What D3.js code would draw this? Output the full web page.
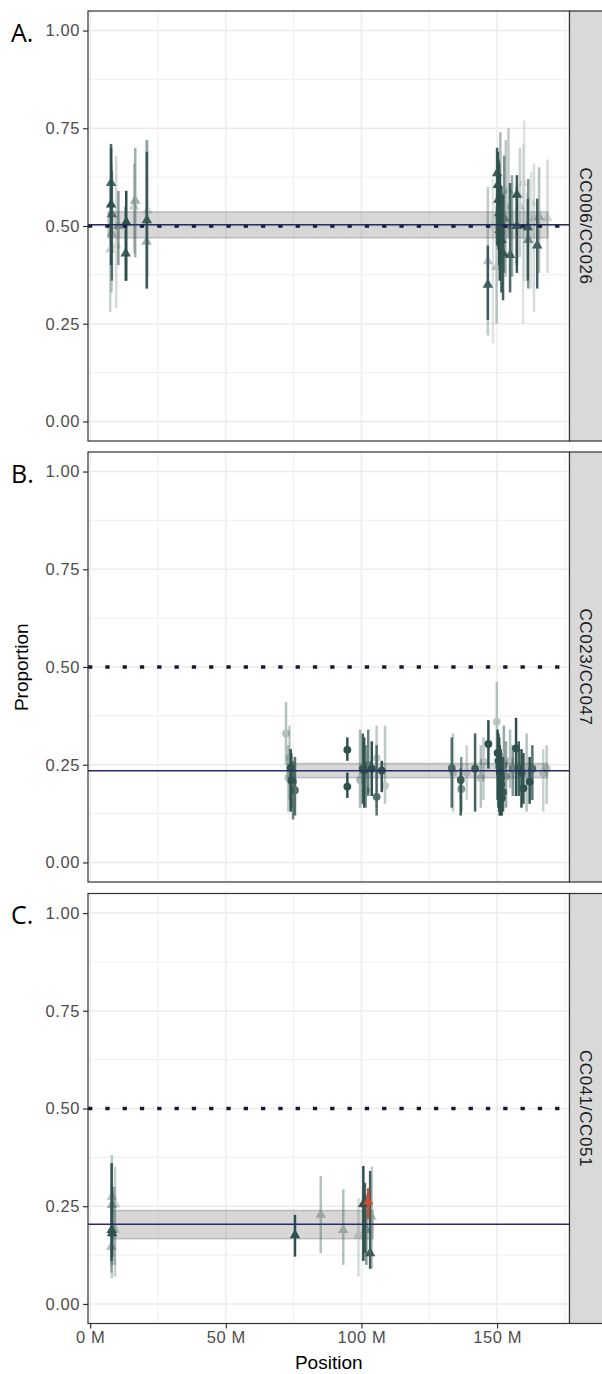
<!DOCTYPE html>
<html><head><meta charset="utf-8">
<script src="https://cdn.jsdelivr.net/npm/d3@7"></script>
<style>body{margin:0;background:#fff}</style>
</head><body>
<svg id="c" width="602" height="1374" xmlns="http://www.w3.org/2000/svg"></svg>
<script>
// ---------- data ----------
const panelLabels = ["A.", "B.", "C."];
const stripLabels = ["CC006/CC026", "CC023/CC047", "CC041/CC051"];
const panelShapes = ["triangle", "circle", "triangle"];
const xTicks = [0, 50, 100, 150];
const xMinor = [25, 75, 125, 175];
const yTicks = [0, 0.25, 0.5, 0.75, 1];
const yMinor = [0.125, 0.375, 0.625, 0.875];
const xDomain = [-0.8, 176.7];
const yDomain = [-0.05, 1.05];
const nullValue = 0.5;
const estimates = [0.503, 0.2345, 0.204];
const ciLow = [0.470, 0.217, 0.167];
const ciHigh = [0.536, 0.253, 0.239];
const bandStart = [6.6, 72.5, 8.0];
const bandEnd = [168.7, 168.6, 104.3];

// [position (Mb), proportion, lower, upper, opacity, highlighted]
const pointsA = [
  [7.7,0.61,0.45,0.71,0.85,0],[7.7,0.555,0.40,0.70,1,0],[8.0,0.53,0.36,0.64,0.75,0],
  [7.9,0.48,0.33,0.66,0.3,0],[7.4,0.44,0.28,0.60,0.25,0],[9.6,0.45,0.29,0.68,0.2,0],
  [10.4,0.50,0.40,0.59,0.55,0],[13.3,0.51,0.36,0.59,1,0],[13.1,0.43,0.36,0.55,0.9,0],
  [16.6,0.565,0.42,0.70,0.45,0],[16.2,0.55,0.43,0.66,0.25,0],[20.9,0.515,0.34,0.69,0.9,0],
  [20.8,0.46,0.34,0.72,0.45,0],[21.2,0.54,0.37,0.72,0.2,0],
  [146.6,0.35,0.26,0.45,0.9,0],[146.6,0.41,0.22,0.60,0.3,0],[148.5,0.50,0.20,0.62,0.15,0],
  [150.0,0.635,0.45,0.70,0.9,0],[150.3,0.605,0.47,0.69,1,0],[150.5,0.567,0.44,0.67,1,0],
  [150.8,0.533,0.40,0.66,1,0],[151.0,0.49,0.36,0.63,1,0],[151.6,0.464,0.33,0.60,0.9,0],
  [152.2,0.43,0.31,0.58,0.9,0],[149.8,0.395,0.25,0.55,0.3,0],[151.2,0.58,0.40,0.74,0.4,0],
  [152.6,0.52,0.38,0.68,0.6,0],[153.2,0.55,0.37,0.72,0.3,0],[154.8,0.426,0.33,0.61,0.85,0],
  [154.2,0.59,0.47,0.75,0.3,0],[155.5,0.50,0.37,0.63,0.5,0],[157.3,0.58,0.38,0.63,0.95,0],
  [157.3,0.50,0.40,0.60,0.9,0],[158.4,0.55,0.42,0.70,0.25,0],[159.6,0.61,0.25,0.71,0.15,0],
  [161.3,0.497,0.36,0.57,0.9,0],[161.5,0.464,0.34,0.62,0.6,0],[163.6,0.52,0.28,0.66,0.2,0],
  [164.8,0.45,0.34,0.57,0.9,0],[165.5,0.523,0.38,0.65,0.35,0],[168.6,0.52,0.38,0.67,0.2,0],
  [160.0,0.58,0.36,0.77,0.15,0],[162.5,0.56,0.34,0.64,0.15,0]
];
const pointsB = [
  [72.2,0.33,0.25,0.41,0.35,0],[73.9,0.242,0.13,0.29,1,0],[74.1,0.21,0.14,0.28,0.9,0],
  [75.5,0.185,0.12,0.27,0.8,0],[73.5,0.267,0.16,0.35,0.3,0],[73.0,0.216,0.13,0.30,0.3,0],
  [74.8,0.207,0.11,0.26,0.7,0],
  [94.8,0.288,0.26,0.32,1,0],[94.8,0.194,0.165,0.23,1,0],[99.5,0.211,0.14,0.34,0.4,0],
  [100.5,0.24,0.15,0.33,0.9,0],[101.0,0.235,0.14,0.32,1,0],[101.6,0.185,0.14,0.30,0.6,0],
  [102.5,0.25,0.17,0.34,0.7,0],[103.8,0.24,0.17,0.31,1,0],[105.6,0.267,0.14,0.35,0.3,0],
  [105.6,0.168,0.12,0.30,0.8,0],[107.5,0.235,0.18,0.26,1,0],[108.7,0.196,0.15,0.35,0.3,0],
  [133.3,0.241,0.14,0.32,0.8,0],[133.8,0.23,0.13,0.33,0.3,0],[136.6,0.211,0.12,0.24,0.9,0],
  [136.8,0.188,0.13,0.27,0.6,0],[138.8,0.23,0.16,0.30,0.25,0],[141.9,0.24,0.13,0.33,0.9,0],
  [144.0,0.216,0.14,0.30,0.35,0],[145.0,0.258,0.16,0.32,0.3,0],[146.8,0.303,0.24,0.364,1,0],
  [149.9,0.36,0.29,0.462,0.3,0],[150.2,0.28,0.16,0.34,1,0],[150.5,0.26,0.14,0.33,1,0],
  [150.8,0.245,0.13,0.32,1,0],[151.0,0.23,0.12,0.30,1,0],[151.3,0.215,0.12,0.29,1,0],
  [151.5,0.20,0.13,0.28,1,0],[151.7,0.164,0.12,0.25,1,0],[152.2,0.18,0.13,0.27,0.9,0],
  [152.5,0.25,0.16,0.35,0.5,0],[153.3,0.22,0.14,0.31,0.5,0],[154.8,0.26,0.19,0.34,0.35,0],
  [155.8,0.24,0.17,0.30,0.6,0],[157.0,0.292,0.17,0.37,1,0],[158.0,0.24,0.17,0.31,0.9,0],
  [159.0,0.23,0.14,0.29,1,0],[159.7,0.19,0.15,0.28,1,0],[160.9,0.23,0.13,0.33,0.35,0],
  [162.0,0.207,0.15,0.27,1,0],[163.0,0.24,0.16,0.30,0.8,0],[167.0,0.229,0.13,0.29,0.25,0],
  [168.3,0.24,0.15,0.30,0.3,0]
];
const pointsC = [
  [8.0,0.274,0.066,0.381,0.3,0],[8.0,0.253,0.10,0.36,0.4,0],[7.9,0.189,0.11,0.36,0.9,0],
  [8.1,0.181,0.12,0.30,1,0],[7.8,0.146,0.08,0.25,0.35,0],[9.2,0.255,0.07,0.351,0.25,0],
  [9.0,0.19,0.10,0.30,0.3,0],[75.5,0.176,0.121,0.228,1,0],[85.0,0.228,0.13,0.327,0.35,0],
  [93.3,0.189,0.10,0.293,0.35,0],[98.9,0.176,0.07,0.271,0.2,0],[100.7,0.256,0.11,0.353,1,0],
  [101.3,0.255,0.13,0.31,0.9,0],[101.8,0.19,0.10,0.28,0.6,0],[103.2,0.13,0.09,0.34,0.9,0],
  [103.8,0.223,0.09,0.351,0.3,0],[102.5,0.262,0.219,0.296,1,1]
];
const panelPoints = [pointsA, pointsB, pointsC];

// ---------- layout ----------
const svg = d3.select("#c");
const L = 88, R = 569.5, PH = 430;
const tops = [11, 452, 893.5];
const stripW = 34;
const pointColor = "#2f514d", hiColor = "#cc4d33";
const font = "'Liberation Sans', Arial, sans-serif";

const x = d3.scaleLinear().domain(xDomain).range([L, R]);

panelPoints.forEach((pts, i) => {
  const T = tops[i];
  const y = d3.scaleLinear().domain(yDomain).range([T + PH, T]);
  const g = svg.append("g");
  g.append("rect").attr("x", L).attr("y", T).attr("width", R - L).attr("height", PH).attr("fill", "#fff");
  g.selectAll(null).data(yMinor).join("line")
    .attr("x1", L).attr("x2", R).attr("y1", d => y(d)).attr("y2", d => y(d))
    .attr("stroke", "#ebebeb").attr("stroke-width", 0.8);
  g.selectAll(null).data(xMinor).join("line")
    .attr("y1", T).attr("y2", T + PH).attr("x1", d => x(d)).attr("x2", d => x(d))
    .attr("stroke", "#ebebeb").attr("stroke-width", 0.8);
  g.selectAll(null).data(yTicks).join("line")
    .attr("x1", L).attr("x2", R).attr("y1", d => y(d)).attr("y2", d => y(d))
    .attr("stroke", "#ebebeb").attr("stroke-width", 1.5);
  g.selectAll(null).data(xTicks).join("line")
    .attr("y1", T).attr("y2", T + PH).attr("x1", d => x(d)).attr("x2", d => x(d))
    .attr("stroke", "#ebebeb").attr("stroke-width", 1.5);

  g.append("rect")
    .attr("x", x(bandStart[i])).attr("width", x(bandEnd[i]) - x(bandStart[i]))
    .attr("y", y(ciHigh[i])).attr("height", y(ciLow[i]) - y(ciHigh[i]))
    .attr("fill", "#9a9a9a").attr("fill-opacity", 0.4)
    .attr("stroke", "#a8a8a8").attr("stroke-width", 1.5).attr("stroke-opacity", 0.7);

  const sorted = pts.slice().sort((a, b) => a[4] - b[4] || a[5] - b[5]);
  const pg = g.append("g");
  sorted.forEach(d => {
    const col = d[5] ? hiColor : pointColor;
    const pgi = pg.append("g").attr("opacity", d[4]);
    pgi.append("line").attr("x1", x(d[0])).attr("x2", x(d[0]))
      .attr("y1", y(d[2])).attr("y2", y(d[3]))
      .attr("stroke", col).attr("stroke-width", 2.5);
    if (panelShapes[i] === "circle") {
      pgi.append("circle").attr("cx", x(d[0])).attr("cy", y(d[1])).attr("r", 3.9).attr("fill", col);
    } else {
      pgi.append("path").attr("d", d3.symbol(d3.symbolTriangle, 48)())
        .attr("transform", `translate(${x(d[0])},${y(d[1])})`).attr("fill", col);
    }
  });

  g.append("line").attr("x1", L).attr("x2", R).attr("y1", y(nullValue)).attr("y2", y(nullValue))
    .attr("stroke", "#151838").attr("stroke-width", 3.6).attr("stroke-dasharray", "4.3,13");
  g.append("line").attr("x1", L).attr("x2", R).attr("y1", y(estimates[i])).attr("y2", y(estimates[i]))
    .attr("stroke", "#272d63").attr("stroke-width", 1.5);

  g.append("rect").attr("x", L).attr("y", T).attr("width", R - L).attr("height", PH)
    .attr("fill", "none").attr("stroke", "#333").attr("stroke-width", 1.2);

  g.append("rect").attr("x", R).attr("y", T).attr("width", stripW).attr("height", PH)
    .attr("fill", "#d9d9d9").attr("stroke", "#333").attr("stroke-width", 1.2);
  g.append("text").attr("transform", `translate(${R + 16},${T + PH / 2}) rotate(90)`)
    .attr("text-anchor", "middle").attr("dominant-baseline", "central")
    .attr("font-family", font).attr("font-size", 17).attr("letter-spacing", 0.6).attr("fill", "#1a1a1a")
    .text(stripLabels[i]);

  const ya = g.append("g").attr("transform", `translate(${L},0)`)
    .call(d3.axisLeft(y).tickValues(yTicks).tickFormat(d3.format(".2f")).tickSize(5).tickPadding(3));
  ya.select(".domain").remove();
  ya.selectAll(".tick line").attr("stroke", "#333").attr("stroke-width", 1.2);
  ya.selectAll(".tick text").attr("fill", "#4d4d4d").attr("font-size", 16.5)
    .attr("letter-spacing", 0.6).attr("font-family", font);

  g.append("text").attr("x", 11).attr("y", T + 30.5)
    .attr("font-family", "'Open Sans', sans-serif").attr("font-size", 25).attr("fill", "#000")
    .text(panelLabels[i]);

  if (i === 2) {
    const xa = g.append("g").attr("transform", `translate(0,${T + PH})`)
      .call(d3.axisBottom(x).tickValues(xTicks).tickFormat(d => d + " M").tickSize(5).tickPadding(3));
    xa.select(".domain").remove();
    xa.selectAll(".tick line").attr("stroke", "#333").attr("stroke-width", 1.2);
    xa.selectAll(".tick text").attr("fill", "#4d4d4d").attr("font-size", 16.5)
      .attr("letter-spacing", 0.6).attr("font-family", font);
  }
});

svg.append("text").attr("x", (L + R) / 2).attr("y", 1369).attr("text-anchor", "middle")
  .attr("font-family", font).attr("font-size", 19).attr("fill", "#000").text("Position");
svg.append("text").attr("transform", `translate(28,${(tops[0] + tops[2] + PH) / 2}) rotate(-90)`)
  .attr("text-anchor", "middle").attr("font-family", font).attr("font-size", 19).attr("fill", "#000")
  .text("Proportion");
</script>
</body></html>
